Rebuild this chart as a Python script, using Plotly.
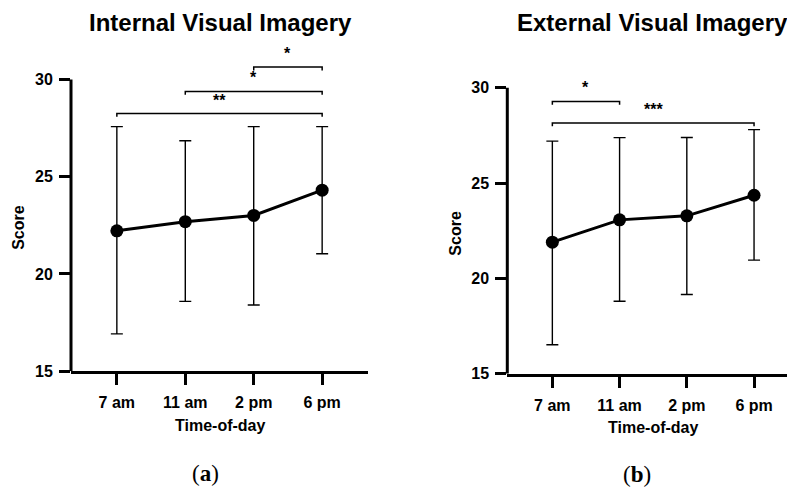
import plotly.graph_objects as go

times = ["7 am", "11 am", "2 pm", "6 pm"]

int_mean = [22.22, 22.69, 23.01, 24.31]
int_upper = [27.58, 26.85, 27.58, 27.58]
int_lower = [16.92, 18.59, 18.40, 21.04]

ext_mean = [21.90, 23.07, 23.28, 24.36]
ext_upper = [27.20, 27.38, 27.39, 27.80]
ext_lower = [16.52, 18.80, 19.16, 20.96]

int_pairs = [(2, 3), (1, 3), (0, 3)]
int_levels = [30.64, 29.39, 28.25]
int_labels = ["*", "*", "**"]

ext_pairs = [(0, 1), (0, 3)]
ext_levels = [29.28, 28.15]
ext_labels = ["*", "***"]

y_ticks = [15, 20, 25, 30]

FONT = "Liberation Sans, Arial, sans-serif"
W, H = 787, 497

fig = go.Figure()


def add_panel(mean, upper, lower, pairs, levels, labels, xa, ya):
    plus = [u - m for u, m in zip(upper, mean)]
    minus = [m - l for m, l in zip(mean, lower)]
    fig.add_trace(go.Scatter(
        x=times, y=mean, mode="lines+markers",
        line=dict(color="black", width=3),
        marker=dict(color="black", size=13),
        error_y=dict(type="data", array=plus, arrayminus=minus,
                     color="black", thickness=1.4, width=6),
        xaxis=xa, yaxis=ya, showlegend=False, cliponaxis=False,
    ))
    for (i, j), h, lab in zip(pairs, levels, labels):
        d = 0.17
        fig.add_trace(go.Scatter(
            x=[times[i], times[i], times[j], times[j]],
            y=[h - d, h, h, h - d], mode="lines",
            line=dict(color="black", width=1.5),
            xaxis=xa, yaxis=ya, showlegend=False, hoverinfo="skip",
        ))
        fig.add_annotation(
            x=(i + j) / 2, y=h, xref=xa, yref=ya, text=lab,
            showarrow=False, yanchor="bottom", yshift=3,
            font=dict(family=FONT, size=16, color="black", weight="bold"),
        )


add_panel(int_mean, int_upper, int_lower, int_pairs, int_levels, int_labels, "x", "y")
add_panel(ext_mean, ext_upper, ext_lower, ext_pairs, ext_levels, ext_labels, "x2", "y2")

# pixel geometry (reference image coordinates)
L_x0, L_x1 = 71, 368
L_y15, L_y30 = 378, 81
R_x0, R_x1 = 507.3, 787
R_y15, R_y30 = 380.7, 89.3

L_top = 32.0
R_top = 31.0
L_ppu = (L_y15 - L_y30) / 15
R_ppu = (R_y15 - R_y30) / 15
L_ytop_px = L_y30 - (L_top - 30) * L_ppu
R_ytop_px = R_y30 - (R_top - 30) * R_ppu

tickfont = dict(family=FONT, size=16, color="black", weight="bold")

xcommon = dict(type="category", showline=True, linecolor="black", linewidth=3,
               ticks="outside", ticklen=11, tickwidth=3, tickcolor="black",
               tickfont=tickfont, showgrid=False, zeroline=False, fixedrange=True,
               ticklabelstandoff=4)
ycommon = dict(showline=False, ticks="outside", ticklen=11, tickwidth=3,
               tickcolor="black", tickfont=tickfont, showgrid=False,
               zeroline=False, tickvals=y_ticks, ticklabelstandoff=3)

fig.update_layout(
    width=W, height=H, margin=dict(l=0, r=0, t=0, b=0),
    paper_bgcolor="white", plot_bgcolor="white",
    xaxis=dict(domain=[L_x0 / W, L_x1 / W], range=[-0.67, 3.67], anchor="y", **xcommon),
    yaxis=dict(domain=[(H - L_y15) / H, (H - L_ytop_px) / H], range=[15, L_top],
               anchor="x", **ycommon),
    xaxis2=dict(domain=[R_x0 / W, R_x1 / W], range=[-0.67, 3.49], anchor="y2", **xcommon),
    yaxis2=dict(domain=[(H - R_y15) / H, (H - R_ytop_px) / H], range=[15, R_top],
                anchor="x2", **ycommon),
)

# y axis lines (only span 15..30)
for xr, yr in [("x domain", "y"), ("x2 domain", "y2")]:
    fig.add_shape(type="line", xref=xr, yref=yr, x0=0, x1=0, y0=15, y1=30,
                  line=dict(color="black", width=3), layer="above")

title_font = dict(family=FONT, size=24, color="black", weight="bold")
lab_font = dict(family=FONT, size=16, color="black", weight="bold")
panel_font = dict(family="Liberation Serif, DejaVu Serif, serif", size=23, color="black")

texts = [
    ("Internal Visual Imagery", 220, 23, title_font, 0),
    ("External Visual Imagery", 652, 23, title_font, 0),
    ("Score", 19, 232, lab_font, -90),
    ("Score", 456, 238, lab_font, -90),
    ("Time-of-day", 220, 433, lab_font, 0),
    ("Time-of-day", 653, 435, lab_font, 0),
    ("(<b>a</b>)", 205, 482, panel_font, 0),
    ("(<b>b</b>)", 637, 483, panel_font, 0),
]
for t, px, py, f, ang in texts:
    fig.add_annotation(x=px / W, y=1 - py / H, xref="paper", yref="paper",
                       text=t, showarrow=False, xanchor="center", yanchor="middle",
                       font=f, textangle=ang)

fig.write_html(
    "out.html",
    config={"displayModeBar": False},
    post_script=(
        "var h=document.documentElement, b=document.body;"
        "h.style.margin='0';h.style.padding='0';h.style.overflow='hidden';"
        "h.style.height='497px';"
        "b.style.margin='0';b.style.padding='0';b.style.overflow='hidden';"
        "b.style.height='497px';b.style.lineHeight='0';"
    ),
)
